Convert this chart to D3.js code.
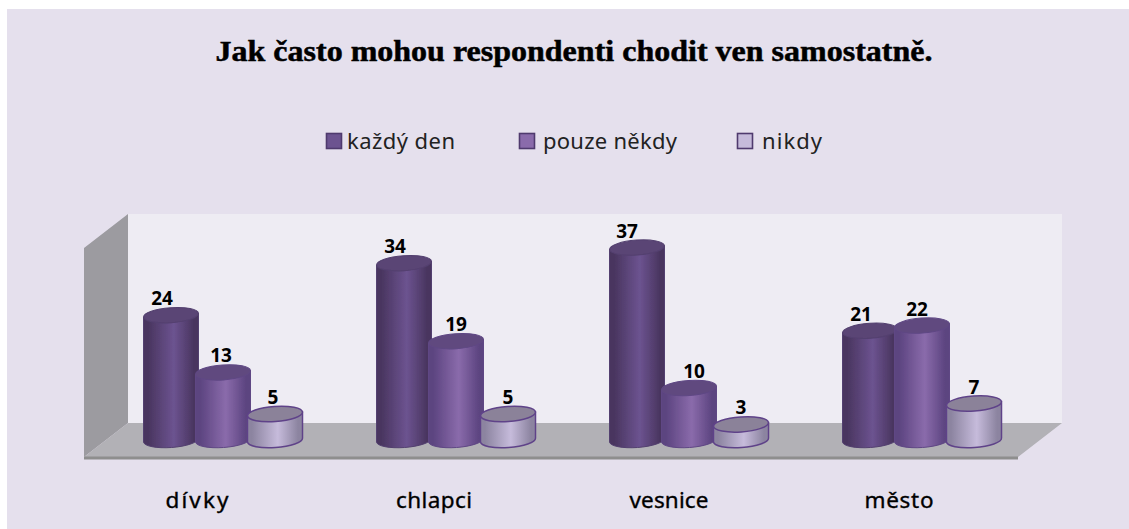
<!DOCTYPE html>
<html><head><meta charset="utf-8">
<script src="https://cdn.jsdelivr.net/npm/d3@7"></script>
<style>html,body{margin:0;padding:0;background:#fff;overflow:hidden}svg{display:block}</style>
</head><body><svg id="c" width="1129" height="529"></svg>
<script>
const titleText = "Jak často mohou respondenti chodit ven samostatně.";
const categories = ["dívky","chlapci","vesnice","město"];
const seriesNames = ["každý den","pouze někdy","nikdy"];
const kazdyDen = [24,34,37,21];
const pouzeNekdy = [13,19,10,22];
const nikdy = [5,5,3,7];
const seriesValues = [kazdyDen,pouzeNekdy,nikdy];

const svg = d3.select("#c");
const defs = svg.append("defs");
const looks = [
 {edge:"#49355f",mid:"#6c5390",top:"#5a4474",line:"#53406f",w:1},
 {edge:"#5c4480",mid:"#8a6bab",top:"#604a7f",line:"#5f4784",w:1},
 {edge:"#8c84a0",mid:"#c6bbdb",top:"#8b8299",line:"#5f4389",w:1.5}
];
looks.forEach((l,i)=>{
  const g = defs.append("linearGradient").attr("id","g"+i);
  [[0,l.edge],[.08,l.edge],[.55,l.mid],[.92,l.edge],[1,l.edge]].forEach(s=>g.append("stop").attr("offset",s[0]).attr("stop-color",s[1]));
});
defs.append("filter").attr("id","soft").append("feGaussianBlur").attr("stdDeviation",.5);

svg.append("rect").attr("x",7).attr("y",9).attr("width",1122).attr("height",520).attr("fill","#e5e0ed");

svg.append("text").attr("x",574).attr("y",61).attr("text-anchor","middle")
  .attr("font-family","'Liberation Serif',serif").attr("font-weight","bold").attr("font-size",29.5)
  .attr("textLength",717).attr("lengthAdjust","spacingAndGlyphs")
  .attr("stroke","#000").attr("stroke-width",.5).attr("fill","#000").text(titleText);

const chart = svg.append("g").attr("filter","url(#soft)");
const wall = {l:128,r:1062,t:214,b:423}, dx=44, dy=34;
chart.append("rect").attr("x",wall.l).attr("y",wall.t).attr("width",wall.r-wall.l).attr("height",wall.b-wall.t).attr("fill","#eeecf3");
chart.append("path").attr("d",`M${wall.l},${wall.t}L${wall.l-dx},${wall.t+dy}V${wall.b+dy}L${wall.l},${wall.b}Z`).attr("fill","#9c9ba0");
chart.append("path").attr("d",`M${wall.l},${wall.b}L${wall.l-dx},${wall.b+dy}H${wall.r-dx}L${wall.r},${wall.b}Z`).attr("fill","#b2b1b6");
chart.append("rect").attr("x",wall.l-dx).attr("y",wall.b+dy-.5).attr("width",wall.r-wall.l).attr("height",3).attr("fill","#8e8e8e");

const x0 = d3.scaleBand().domain(categories).range([143,1075]);
const x1 = d3.scalePoint().domain(seriesNames).range([28,132]);
const y = d3.scaleLinear().domain([0,37]).range([440,247.6]);
const rx = 27.5, ry = 7.5, tilt = -4, sl = rx*Math.tan(4*Math.PI/180);
const labelNudge = [[-9,-2,-2],[-9,0,0],[-10,5,0],[-9,-5,0]];
const catNudge = [-26,-22,-20,-23];
const catWidth = [63,76,79,69];

categories.forEach((cat,ci)=>{
  seriesNames.forEach((s,si)=>{
    const v = seriesValues[si][ci], cx = x0(cat)+x1(s), yt=y(v), yb=y(0), l=looks[si];
    chart.append("path")
      .attr("d",`M${cx-rx},${yt+sl}L${cx-rx},${yb+sl}A${rx},${ry} ${tilt} 0 0 ${cx+rx},${yb-sl}L${cx+rx},${yt-sl}Z`)
      .attr("fill",`url(#g${si})`).attr("stroke",l.line).attr("stroke-width",l.w);
    chart.append("ellipse").attr("cx",cx).attr("cy",yt).attr("rx",rx).attr("ry",ry)
      .attr("transform",`rotate(${tilt} ${cx} ${yt})`)
      .attr("fill",l.top).attr("stroke",l.line).attr("stroke-width",l.w);
    svg.append("text").attr("x",cx+labelNudge[ci][si]).attr("y",yt-10).attr("text-anchor","middle")
      .attr("font-family","'Noto Sans',sans-serif").attr("font-weight","bold").attr("font-size",19)
      .attr("fill","#000").text(v);
  });
  svg.append("text").attr("x",x0(cat)+x1(seriesNames[1])+catNudge[ci]).attr("y",508)
    .attr("text-anchor","middle").attr("font-family","'Noto Sans',sans-serif").attr("font-size",22.5)
    .attr("textLength",catWidth[ci]).attr("lengthAdjust","spacing")
    .attr("stroke","#000").attr("stroke-width",.35).attr("fill","#000").text(cat);
});

const legendX = d3.scaleOrdinal().domain(seriesNames).range([326,519,737]);
const legendGap = [21,24,25];
const legendWidth = [108,134,60];
seriesNames.forEach((s,i)=>{
  const lx = legendX(s);
  svg.append("rect").attr("x",lx+.5).attr("y",133.5).attr("width",15).attr("height",15)
    .attr("fill",looks[i].mid).attr("stroke","#4f3a6e").attr("stroke-width",1.6);
  svg.append("text").attr("x",lx+legendGap[i]).attr("y",149).attr("font-family","'Noto Sans',sans-serif")
    .attr("font-size",22).attr("textLength",legendWidth[i]).attr("lengthAdjust","spacing")
    .attr("fill","#222").text(s);
});
</script></body></html>
